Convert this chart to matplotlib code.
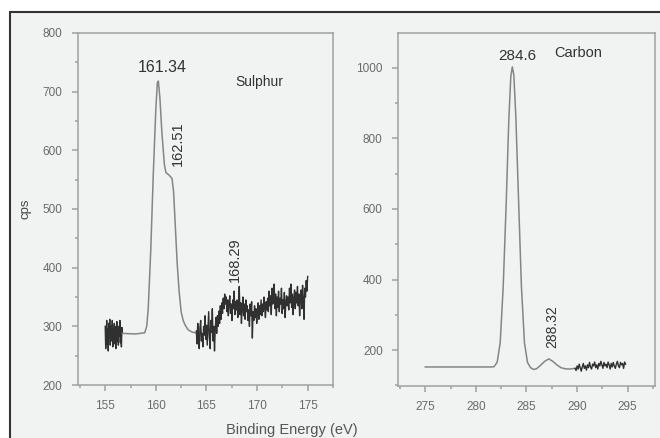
import numpy as np
import matplotlib
matplotlib.use("Agg")
import matplotlib.pyplot as plt
from matplotlib.patches import Rectangle
from matplotlib.ticker import MultipleLocator

plt.rcParams['font.family'] = ['Liberation Sans', 'DejaVu Sans']

# ------------------------------------------------------------------
# Sulphur (S 2p) spectrum
# ------------------------------------------------------------------
s_noise1_range = (155.0, 156.7)
s_noise1_cps = [300, 262, 285, 310, 270, 295, 258, 305, 280, 312, 268, 290,
                300, 275, 310, 265, 295, 285, 305, 270, 300, 262, 290, 308,
                275, 296, 268, 300, 283, 310, 272, 292, 265, 298, 288]

s_peak_ev = [156.7, 158.0, 158.9, 159.1, 159.25, 159.5, 159.75, 160.0, 160.15, 160.25,
             160.4, 160.6, 160.85, 161.0, 161.3, 161.6, 161.75, 161.9, 162.1,
             162.3, 162.5, 162.7, 162.9, 163.2, 163.6, 164.0]
s_peak_cps = [288, 287, 289, 300, 330, 430, 560, 670, 715, 718,
              690, 630, 575, 562, 558, 552, 530, 480, 410,
              360, 325, 310, 302, 294, 290, 289]

s_noise2_range = (164.0, 175.0)
s_noise2_cps = [292, 270, 305, 280, 262, 298, 310, 275, 288, 265, 300, 285, 318, 278,
                302, 268, 296, 325, 282, 262, 310, 290, 330, 275, 300, 258, 295, 315,
                288, 318, 300, 326, 305, 335, 312, 340, 322, 348, 330, 355, 338, 350,
                325, 345, 318, 340, 352, 322, 338, 310, 345, 330, 360, 320, 342, 328,
                345, 315, 335, 368, 320, 340, 305, 332, 350, 318, 338, 312, 345, 325,
                335, 310, 328, 300, 338, 318, 342, 280, 325, 310, 335, 315, 330, 305,
                325, 340, 312, 335, 320, 345, 318, 338, 325, 350, 330, 315, 342, 328,
                348, 325, 360, 335, 352, 320, 365, 338, 345, 372, 330, 355, 318, 350,
                332, 360, 325, 348, 338, 365, 322, 345, 330, 358, 315, 340, 352, 335,
                350, 328, 365, 340, 372, 332, 355, 320, 348, 362, 330, 358, 340, 368,
                335, 355, 318, 348, 362, 330, 370, 345, 312, 365, 350, 378, 360, 385]

# ------------------------------------------------------------------
# Carbon (C 1s) spectrum
# ------------------------------------------------------------------
c_peak_ev = [275.0, 281.6, 281.8, 282.1, 282.4, 282.7, 283.0, 283.25, 283.45, 283.6,
             283.75, 283.95, 284.2, 284.5, 284.8, 285.1, 285.4, 285.7, 286.0, 286.4,
             286.8, 287.2, 287.6, 288.0, 288.4, 288.8, 289.2, 289.8]
c_peak_cps = [152, 152, 153, 165, 220, 380, 620, 850, 975, 1003,
              980, 860, 640, 380, 220, 165, 150, 145, 147, 157,
              168, 175, 168, 158, 150, 147, 146, 148]

c_noise_range = (289.8, 294.8)
c_noise_cps = [148, 142, 155, 146, 160, 150, 140, 152, 162, 148, 155, 143, 158,
               150, 165, 152, 146, 160, 155, 166, 150, 158, 146, 162, 155, 168,
               158, 148, 165, 155, 160, 150, 166, 158, 146, 162, 152, 165, 155,
               148, 160, 168, 155, 150, 165, 158, 162, 148, 166, 160]

# peak labels: (text, x, y, rotation)
s_labels = [('161.34', 160.6, 742, 0), ('162.51', 162.15, 611, 90),
            ('168.29', 167.8, 413, 90)]
c_labels = [('284.6', 284.1, 1035, 0), ('288.32', 287.5, 265, 90)]

BG = '#f1f2f2'
SPINE = '#a0a0a0'
LINE = '#858585'
NOISE = '#303030'


def channel_axis(ev_range, values):
    # evenly spaced acquisition channels across the recorded window
    return np.linspace(ev_range[0], ev_range[1], len(values))


def style_axes(ax):
    ax.set_facecolor('none')
    for sp in ax.spines.values():
        sp.set_color(SPINE)
        sp.set_linewidth(1.1)
    ax.tick_params(which='both', direction='out', color=SPINE, top=False, right=False,
                   labelsize=8.5, labelcolor='#6a6a6a')
    ax.tick_params(which='major', length=4, width=1.1, pad=7)
    ax.tick_params(which='minor', length=2.5, width=1.1)


fig = plt.figure(figsize=(6.6, 4.38), dpi=100)
fig.patch.set_facecolor('white')
fig.patches.append(Rectangle((10 / 660, -0.05), 1.05, 0.05 + 426 / 438,
                             transform=fig.transFigure, facecolor=BG,
                             edgecolor='#333333', linewidth=1.5, zorder=-10))

# Sulphur panel
ax1 = fig.add_axes([0.118, 0.121, 0.3865, 0.8037])
ax1.plot(channel_axis(s_noise1_range, s_noise1_cps), s_noise1_cps, color=NOISE, lw=1.0)
ax1.plot(s_peak_ev, s_peak_cps, color=LINE, lw=1.1)
ax1.plot(channel_axis(s_noise2_range, s_noise2_cps), s_noise2_cps, color=NOISE, lw=1.0)
ax1.set_xlim(152.3, 177.5)
ax1.set_ylim(200, 800)
ax1.xaxis.set_major_locator(MultipleLocator(5))
ax1.xaxis.set_minor_locator(MultipleLocator(2.5))
ax1.yaxis.set_major_locator(MultipleLocator(100))
ax1.yaxis.set_minor_locator(MultipleLocator(50))
style_axes(ax1)
ax1.set_ylabel('cps', fontsize=9.5, color='#444444', labelpad=8)
for txt, x, y, rot in s_labels:
    ax1.text(x, y, txt, rotation=rot, ha='center', va='center',
             fontsize=11.5 if rot == 0 else 10.5, color='#333333')
ax1.text(170.2, 716, 'Sulphur', ha='center', va='center', fontsize=10, color='#333333')

# Carbon panel
ax2 = fig.add_axes([0.603, 0.1187, 0.3894, 0.806])
ax2.plot(c_peak_ev, c_peak_cps, color=LINE, lw=1.1)
ax2.plot(channel_axis(c_noise_range, c_noise_cps), c_noise_cps, color=NOISE, lw=1.0)
ax2.set_xlim(272.3, 297.7)
ax2.set_ylim(98, 1099)
ax2.xaxis.set_major_locator(MultipleLocator(5))
ax2.xaxis.set_minor_locator(MultipleLocator(2.5))
ax2.set_yticks([200, 400, 600, 800, 1000])
ax2.yaxis.set_minor_locator(MultipleLocator(100))
style_axes(ax2)
for txt, x, y, rot in c_labels:
    ax2.text(x, y, txt, rotation=rot, ha='center', va='center',
             fontsize=11 if rot == 0 else 10, color='#333333')
ax2.text(290.1, 1043, 'Carbon', ha='center', va='center', fontsize=10.5, color='#333333')

fig.text(292 / 660, 1 - 430 / 438, 'Binding Energy (eV)', ha='center', va='center',
         fontsize=10.5, color='#555555')

fig.savefig('out.png', dpi=100, facecolor=fig.get_facecolor())
